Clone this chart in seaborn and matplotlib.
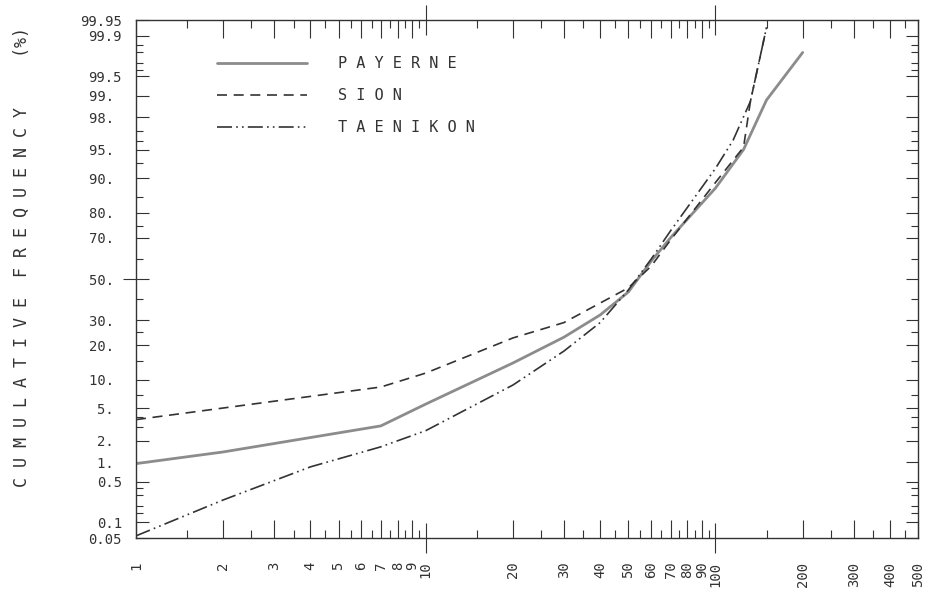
import numpy as np
import pandas as pd
import matplotlib
matplotlib.use('Agg')
import matplotlib.pyplot as plt
import seaborn as sns
from matplotlib.ticker import NullFormatter
from statistics import NormalDist

# 数据（从图上读出的累计频率 %）
payerne_x = [1, 2, 7, 10, 20, 30, 40, 50, 60, 70, 100, 125, 150, 200]
payerne_y = [0.95, 1.4, 3.1, 5.6, 14.3, 23, 32.4, 43.4, 59, 70, 87.6, 95, 98.85, 99.8]
sion_x = [1, 7, 10, 20, 30, 40, 50, 60, 70, 100, 125, 132, 150]
sion_y = [3.7, 8.5, 11.6, 22.7, 29, 38, 45.5, 56.5, 69, 89, 95.3, 98.8, 99.93]
taenikon_x = [1, 2, 4, 7, 10, 20, 30, 40, 50, 60, 70, 100, 115, 132, 150]
taenikon_y = [0.055, 0.25, 0.85, 1.65, 2.7, 8.9, 18, 29, 44.4, 60, 73, 92, 96.1, 98.8, 99.93]

x_ticks = [1, 2, 3, 4, 5, 6, 7, 8, 9, 10, 20, 30, 40, 50, 60, 70, 80, 90,
           100, 200, 300, 400, 500]
x_minor = [1.5, 2.5, 3.5, 4.5, 5.5, 6.5, 7.5, 8.5, 9.5, 15, 25, 35, 45, 55,
           65, 75, 85, 95, 150, 250, 350, 450]
y_ticks = [0.05, 0.1, 0.5, 1, 2, 5, 10, 20, 30, 50, 70, 80, 90, 95, 98, 99,
           99.5, 99.9, 99.95]
y_labels = ['0.05', '0.1', '0.5', '1. ', '2. ', '5. ', '10. ', '20. ', '30. ',
            '50. ', '70. ', '80. ', '90. ', '95. ', '98. ', '99. ', '99.5',
            '99.9', '99.95']
y_minor = [0.15, 0.2, 0.3, 0.4, 3, 4, 7, 15, 25, 40, 60, 75, 85, 93, 96, 97,
           99.6, 99.7, 99.8, 99.85]

stations = ['PAYERNE', 'SION', 'TAENIKON']

df = pd.concat([
    pd.DataFrame({'x': payerne_x, 'y': payerne_y, 'station': 'PAYERNE'}),
    pd.DataFrame({'x': sion_x, 'y': sion_y, 'station': 'SION'}),
    pd.DataFrame({'x': taenikon_x, 'y': taenikon_y, 'station': 'TAENIKON'}),
])

sns.set_style('white')
plt.rcParams['font.family'] = ['DejaVu Sans Mono', 'DejaVu Sans']

styles = {
    'PAYERNE': dict(color='#8c8c8c', linewidth=2.0, linestyle='-'),
    'SION': dict(color='#333333', linewidth=1.2, linestyle=(0, (6, 4))),
    'TAENIKON': dict(color='#333333', linewidth=1.2,
                     linestyle=(0, (9, 2.5, 1, 2.5, 1, 2.5))),
}

fig = plt.figure(figsize=(9.28, 5.95), dpi=100)
ax = fig.add_axes([136 / 928, 57 / 595, 782 / 928, 518 / 595])

for name in stations:
    sub = df[df['station'] == name]
    sns.lineplot(data=sub, x='x', y='y', ax=ax, label=name, errorbar=None,
                 **styles[name])

# 正态概率纵轴
_nd = NormalDist()
_fwd = np.vectorize(lambda p: _nd.inv_cdf(min(max(p, 1e-9), 100 - 1e-9) / 100),
                    otypes=[float])
_inv = np.vectorize(lambda z: _nd.cdf(z) * 100, otypes=[float])
ax.set_yscale('function', functions=(_fwd, _inv))
ax.set_xscale('log')
ax.set_xlim(1, 500)
ax.set_ylim(0.05, 99.95)

ax.set_xticks(x_ticks)
ax.set_xticklabels([str(v) for v in x_ticks], rotation=90)
ax.set_xticks(x_minor, minor=True)
ax.xaxis.set_minor_formatter(NullFormatter())
ax.set_yticks(y_ticks)
ax.set_yticklabels(y_labels)
ax.set_yticks(y_minor, minor=True)
ax.yaxis.set_minor_formatter(NullFormatter())
ax.set_xlabel('')
ax.set_ylabel('')

ax.tick_params(axis='x', which='major', direction='in', length=13, width=0.8,
               top=True, bottom=True, pad=17, labelsize=10, colors='#333333')
ax.tick_params(axis='x', which='minor', direction='in', length=6, width=0.8,
               top=True, bottom=True, colors='#333333')
ax.tick_params(axis='y', which='major', direction='in', length=9, width=0.8,
               left=True, right=True, pad=10, labelsize=10, colors='#333333')
ax.tick_params(axis='y', which='minor', direction='in', length=5, width=0.8,
               left=True, right=True, colors='#333333')

# 穿过坐标轴的长刻度
xt = ax.xaxis.get_major_ticks()
for i, v in enumerate(x_ticks):
    if v in (10, 100):
        for line in (xt[i].tick1line, xt[i].tick2line):
            line.set_marker('|')
            line.set_markersize(22)
yt = ax.yaxis.get_major_ticks()
yt[y_ticks.index(50)].tick1line.set_marker('_')
yt[y_ticks.index(50)].tick1line.set_markersize(19)

for sp in ax.spines.values():
    sp.set_color('#333333')
    sp.set_linewidth(1.0)

leg = ax.legend(loc='upper left', bbox_to_anchor=(0.104, 0.93),
                frameon=False, handlelength=5.9, handletextpad=2.0,
                labelspacing=1.1, borderpad=0, borderaxespad=0,
                fontsize=11)
for t in leg.get_texts():
    t.set_text(' '.join(t.get_text()))
    t.set_color('#333333')

fig.text(22 / 928, 1 - 257 / 595,
         'C U M U L A T I V E  F R E Q U E N C Y     (%)',
         rotation=90, ha='center', va='center', fontsize=12, color='#333333')

fig.savefig('out.png', dpi=100)
